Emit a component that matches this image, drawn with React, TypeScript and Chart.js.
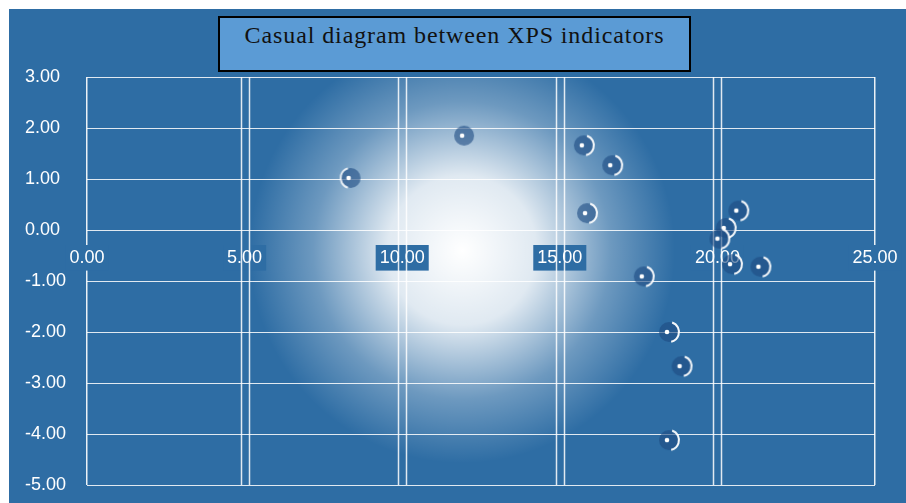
import React, { useEffect, useRef } from "react";
import { Chart, registerables } from "chart.js";

Chart.register(...registerables);

const TITLE = "Casual diagram between XPS indicators";

// scatter values
const X_VALUES = [8.3, 11.9, 15.7, 16.6, 15.8, 20.6, 20.2, 20.0, 20.4, 21.3, 17.6, 18.4, 18.8, 18.4];
const Y_VALUES = [1.02, 1.85, 1.66, 1.27, 0.33, 0.38, 0.04, -0.17, -0.67, -0.72, -0.91, -2.0, -2.67, -4.12];
const MARKER_KIND = ["left", "none", "right", "right", "right", "right", "right", "right", "right", "right", "right", "right", "right", "right"];

const X_MIN = 0;
const X_MAX = 25;
const X_STEP = 5;
const Y_MIN = -5;
const Y_MAX = 3;
const Y_STEP = 1;

const GLOW_CENTER_X = 11.9;
const GLOW_CENTER_Y = -0.4;

const BG = "#2E6DA4";
const TITLE_FILL = "#5B9BD5";

function makeMarker(kind: string): HTMLCanvasElement {
  const c = document.createElement("canvas");
  c.width = 32;
  c.height = 32;
  const g = c.getContext("2d")!;
  const cx = 16;
  const cy = 16;
  g.beginPath();
  g.arc(cx + 2, cy, 10, 0, Math.PI * 2);
  g.fillStyle = "rgba(30,75,130,0.6)";
  g.fill();
  if (kind === "right") {
    g.beginPath();
    g.arc(cx + 2, cy, 10, -1.25, 1.35);
    g.strokeStyle = "rgba(255,255,255,0.95)";
    g.lineWidth = 2;
    g.stroke();
  } else if (kind === "left") {
    g.beginPath();
    g.arc(cx + 2, cy, 10, Math.PI - 1.3, Math.PI + 1.3);
    g.strokeStyle = "rgba(255,255,255,0.85)";
    g.lineWidth = 2;
    g.stroke();
  }
  g.beginPath();
  g.arc(cx, cy, 2.3, 0, Math.PI * 2);
  g.fillStyle = "#ffffff";
  g.fill();
  return c;
}

const fmt = (v: any) => Number(v).toFixed(2);

const bgPlugin = {
  id: "bgGlow",
  beforeDraw(chart: any) {
    const { ctx, chartArea: a, scales } = chart;
    const xs = scales.x;
    const ys = scales.y;
    ctx.save();
    ctx.fillStyle = "#ffffff";
    ctx.fillRect(0, 0, chart.width, chart.height);
    ctx.fillStyle = BG;
    ctx.fillRect(9, 9, chart.width - 9, chart.height - 9);
    const cx = xs.getPixelForValue(GLOW_CENTER_X);
    const cy = ys.getPixelForValue(GLOW_CENTER_Y);
    const r = a.width * 0.27;
    const grad = ctx.createRadialGradient(cx, cy, 0, cx, cy, r);
    grad.addColorStop(0, "rgba(255,255,255,1)");
    grad.addColorStop(0.35, "rgba(255,255,255,0.85)");
    grad.addColorStop(0.7, "rgba(255,255,255,0.3)");
    grad.addColorStop(1, "rgba(255,255,255,0)");
    ctx.beginPath();
    ctx.rect(a.left, a.top, a.width, a.height);
    ctx.clip();
    ctx.fillStyle = grad;
    ctx.fillRect(a.left, a.top, a.width, a.height);
    ctx.restore();
  },
  beforeDatasetsDraw(chart: any) {
    const { ctx, chartArea: a, scales } = chart;
    const xs = scales.x;
    ctx.save();
    ctx.strokeStyle = "rgba(255,255,255,0.85)";
    ctx.lineWidth = 1.5;
    for (let v = X_MIN + X_STEP; v < X_MAX; v += X_STEP) {
      const px = Math.round(xs.getPixelForValue(v));
      for (const off of [-4, 4]) {
        ctx.beginPath();
        ctx.moveTo(px + off + 0.5, a.top);
        ctx.lineTo(px + off + 0.5, a.bottom);
        ctx.stroke();
      }
    }
    ctx.restore();
  },
};

export default function App() {
  const ref = useRef<HTMLCanvasElement | null>(null);

  useEffect(() => {
    if (!ref.current) return;
    const points = X_VALUES.map((x, i) => ({ x, y: Y_VALUES[i] }));
    const markers = MARKER_KIND.map((k) => makeMarker(k));
    const tickFont = { family: "'Liberation Sans', Arial, sans-serif", size: 18 };
    const chart = new Chart(ref.current, {
      type: "scatter",
      data: {
        datasets: [
          {
            data: points,
            pointStyle: markers as any,
            pointRadius: 12,
            pointHoverRadius: 12,
          },
        ],
      },
      options: {
        animation: false,
        responsive: false,
        devicePixelRatio: 1,
        events: [],
        layout: { padding: { left: 25, top: 77, right: 31, bottom: 18 } },
        plugins: {
          legend: { display: false },
          tooltip: { enabled: false },
          title: { display: false },
        },
        scales: {
          x: {
            type: "linear",
            min: X_MIN,
            max: X_MAX,
            position: { y: 0 } as any,
            afterFit(scale: any) {
              scale.paddingLeft = 0;
              scale.paddingRight = 0;
            },
            ticks: {
              stepSize: X_STEP,
              callback: fmt,
              color: "#ffffff",
              font: tickFont,
              padding: 17,
              maxRotation: 0,
              autoSkip: false,
              showLabelBackdrop: true,
              backdropColor: BG,
              backdropPadding: { x: 4, y: 2 },
            } as any,
            grid: {
              color: (c: any) =>
                c.tick && (c.tick.value === X_MIN || c.tick.value === X_MAX)
                  ? "rgba(255,255,255,0.9)"
                  : "rgba(255,255,255,0)",
              drawTicks: false,
              lineWidth: 1.5,
            },
            border: { display: false },
          },
          y: {
            type: "linear",
            min: Y_MIN,
            max: Y_MAX,
            ticks: {
              stepSize: Y_STEP,
              callback: fmt,
              color: "#ffffff",
              font: tickFont,
              crossAlign: "far",
            },
            afterFit(scale: any) {
              scale.width = 62;
            },
            grid: {
              color: "rgba(255,255,255,0.85)",
              drawTicks: false,
              lineWidth: 1,
            },
            border: { display: false },
          },
        },
      },
      plugins: [bgPlugin],
    });
    return () => chart.destroy();
  }, []);

  return (
    <div style={{ position: "absolute", left: 0, top: 0, width: 906, height: 503, background: "#fff", overflow: "hidden" }}>
      <canvas ref={ref} width={906} height={503} style={{ position: "absolute", left: 0, top: 0, width: 906, height: 503 }} />
      <div
        style={{
          position: "absolute",
          left: 218,
          top: 16,
          width: 473,
          height: 56,
          boxSizing: "border-box",
          border: "2px solid #000",
          background: TITLE_FILL,
          fontFamily: "'Liberation Serif', 'Times New Roman', serif",
          fontSize: 24,
          letterSpacing: "0.9px",
          color: "#111",
          textAlign: "center",
          paddingTop: 4,
          lineHeight: "27px",
          whiteSpace: "nowrap",
        }}
      >
        {TITLE}
      </div>
    </div>
  );
}
